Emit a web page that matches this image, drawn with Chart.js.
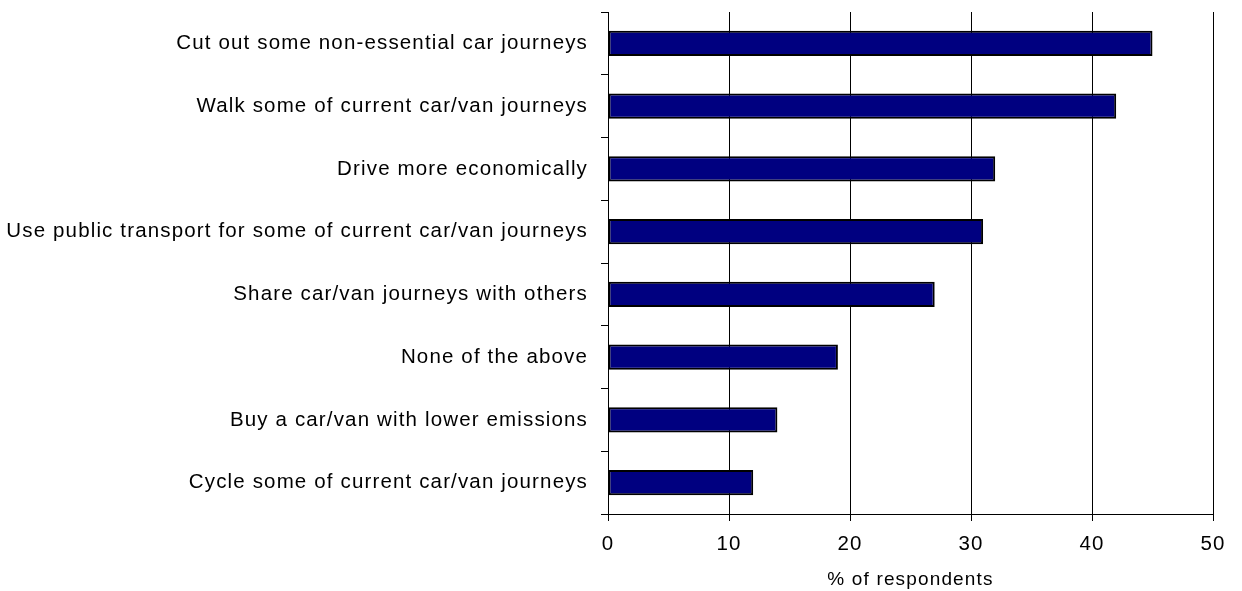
<!DOCTYPE html>
<html>
<head>
<meta charset="utf-8">
<script src="https://cdn.jsdelivr.net/npm/chart.js@4/dist/chart.umd.min.js"></script>
<style>
  html, body { margin: 0; padding: 0; background: #fff; }
  #wrap { width: 1242px; height: 591px; }
</style>
</head>
<body>
<div id="wrap"><canvas id="actionsChart"></canvas></div>
<script>
const actions = [
    'Cut out some non-essential car journeys',
    'Walk some of current car/van journeys',
    'Drive more economically',
    'Use public transport for some of current car/van journeys',
    'Share car/van journeys with others',
    'None of the above',
    'Buy a car/van with lower emissions',
    'Cycle some of current car/van journeys'
];
const respondents = [45, 42, 32, 31, 27, 19, 14, 12];
const xTicks = [0, 10, 20, 30, 40, 50];

// the labels use a slightly wider, spaced-out text
const wideText = {
    id: 'wideText',
    beforeDraw(chart) {
        chart.ctx.letterSpacing = '1.15px';
    }
};

document.addEventListener('DOMContentLoaded', (event) => {
    const ctx = document.getElementById('actionsChart').getContext('2d');
    Chart.defaults.font.family = '"Liberation Sans", Arial, sans-serif';
    Chart.defaults.color = '#000';

    new Chart(ctx, {
        type: 'bar',
        data: {
            labels: actions,
            datasets: [{
                label: '% of respondents',
                data: respondents,
                backgroundColor: '#000080',
                borderColor: '#000',
                borderWidth: 2,
                borderSkipped: false,
                categoryPercentage: 1,
                barPercentage: 0.4
            }]
        },
        plugins: [wideText],
        options: {
            indexAxis: 'y',
            responsive: true,
            maintainAspectRatio: false,
            animation: false,
            layout: { padding: { top: 0, right: 29, bottom: 0, left: 0 } },
            plugins: {
                legend: { display: false },
                tooltip: { enabled: false }
            },
            scales: {
                x: {
                    min: 0,
                    max: 50,
                    afterBuildTicks: (scale) => {
                        scale.ticks = xTicks.map(v => ({ value: v }));
                    },
                    afterFit: (scale) => { scale.height = 77; },
                    grid: {
                        color: '#000',
                        lineWidth: 1,
                        drawTicks: true,
                        tickLength: 7
                    },
                    border: { display: true, color: '#000', width: 1 },
                    ticks: {
                        font: { size: 20.5 },
                        padding: 11,
                        maxRotation: 0
                    },
                    title: {
                        display: true,
                        text: '% of respondents',
                        font: { size: 19 },
                        padding: { top: 4, bottom: 0 }
                    }
                },
                y: {
                    afterFit: (scale) => {
                        scale.width = 608;
                        scale.paddingTop = 12;
                        scale.paddingBottom = 0;
                    },
                    grid: {
                        offset: true,
                        drawOnChartArea: false,
                        drawTicks: true,
                        tickLength: 7,
                        color: '#000'
                    },
                    border: { display: true, color: '#000', width: 1 },
                    ticks: {
                        font: { size: 20.5 },
                        padding: 13,
                        autoSkip: false
                    }
                }
            }
        }
    });
});
</script>
</body>
</html>
